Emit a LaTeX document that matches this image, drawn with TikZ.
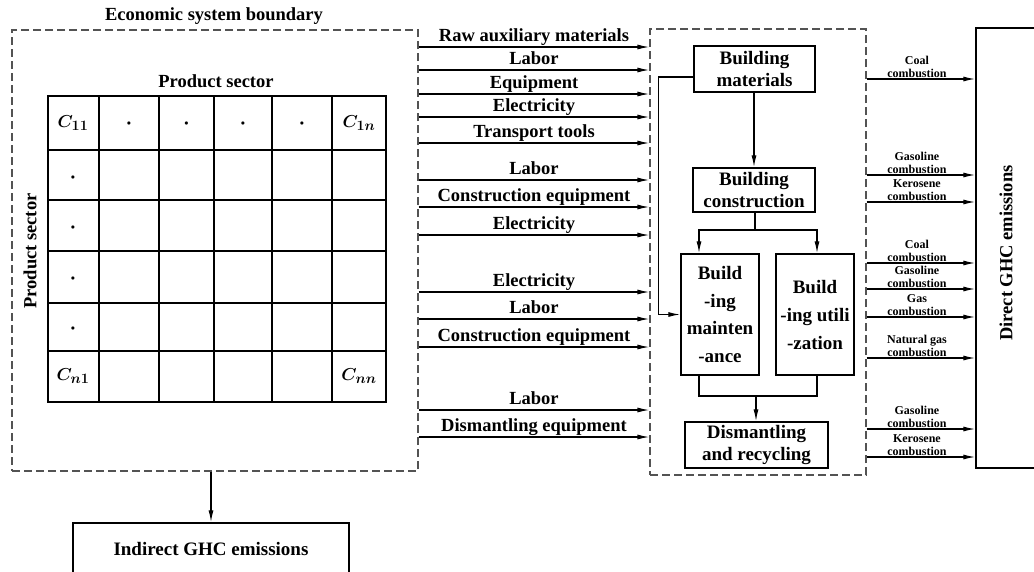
\documentclass[tikz,border=0pt]{standalone}
\usepackage{fontspec}
\setmainfont{Liberation Serif}
\usetikzlibrary{arrows.meta}

\begin{document}
\begin{tikzpicture}[x=1pt, y=-1pt,
    bound/.style={draw=gray!65!black, dash pattern=on 8pt off 4pt, line width=1.1pt, inner sep=0pt},
    blk/.style={draw, line width=1.4pt, inner sep=0pt, align=center,
                font=\fontsize{19}{22}\selectfont\bfseries},
    lbl/.style={font=\fontsize{18.5}{22}\selectfont\bfseries},
    flow/.style={lbl, anchor=base, yshift=6pt},
    fuel/.style={font=\fontsize{12}{12.5}\selectfont\bfseries, align=center, anchor=south,
                 inner sep=1pt, xshift=-4pt},
    cell/.style={font=\fontsize{19}{20}\selectfont\boldmath},
    dot/.style={font=\fontsize{8}{8}\selectfont, inner sep=0pt},
    arr/.style={-{Latex[length=12pt, width=5pt]}, line width=1.3pt}
  ]
  \useasboundingbox (0,0) rectangle (1034,571);

  % Economic system boundary with the input-output table.
  \node[bound, minimum width=406pt, minimum height=441pt] (ecob) at (215,250.5) {};
  \node[lbl] (ecot) at (214,16) {Economic system boundary};
  \node[lbl] (colsec) at (216,81) {Product sector};
  \node[lbl, rotate=90] (rowsec) at (30,251) {Product sector};

  \draw[line width=1.4pt] (48,96) rectangle (386,402);
  \draw[line width=1.4pt] (99,96) -- (99,402) (159,96) -- (159,402) (214,96) -- (214,402)
    (272,96) -- (272,402) (332,96) -- (332,402);
  \draw[line width=1.4pt] (48,150) -- (386,150) (48,200) -- (386,200) (48,251) -- (386,251)
    (48,303) -- (386,303) (48,351) -- (386,351);
  \node[cell] (c11) at (73,123) {$C_{11}$};
  \node[cell] (c1n) at (359,123) {$C_{1n}$};
  \node[cell] (cn1) at (73,376) {$C_{n1}$};
  \node[cell] (cnn) at (359,376) {$C_{nn}$};
  \node[dot] (r1) at (129,124) {$\bullet$};
  \node[dot] (r2) at (186.5,124) {$\bullet$};
  \node[dot] (r3) at (243,124) {$\bullet$};
  \node[dot] (r4) at (302,124) {$\bullet$};
  \node[dot] (k1) at (73,178) {$\bullet$};
  \node[dot] (k2) at (73,228) {$\bullet$};
  \node[dot] (k3) at (73,279) {$\bullet$};
  \node[dot] (k4) at (73,329) {$\bullet$};

  \node[blk, minimum width=276pt, minimum height=52pt] (ind) at (211,549) {Indirect GHC emissions};
  \draw[arr] (ind.north |- ecob.south) -- (ind);

  % Building life cycle boundary.
  \node[bound, minimum width=216pt, minimum height=446pt] (bldb) at (758,252) {};
  \node[blk, minimum width=121pt, minimum height=46pt] (mat) at (754.5,69) {Building\\materials};
  \node[blk, minimum width=122pt, minimum height=44pt] (constr) at (754,190) {Building\\construction};
  \node[blk, minimum width=78pt, minimum height=121pt, font=\fontsize{19}{27.5}\selectfont\bfseries]
    (maint) at (720,314.5) {Build\\-ing\\mainten\\-ance};
  \node[blk, minimum width=78pt, minimum height=121pt, font=\fontsize{19}{28}\selectfont\bfseries]
    (util) at (815,314.5) {Build\\-ing utili\\-zation};
  \node[blk, minimum width=143pt, minimum height=46pt] (dism) at (756.5,445) {Dismantling\\and recycling};

  \draw[arr] (mat.south -| constr.north) -- (constr);
  \coordinate (split) at (755,230);
  \draw[line width=1.3pt] (constr.south -| split) -- (split);
  \draw[arr] (split) -| ([xshift=-21pt]maint.north);
  \draw[arr] (split) -| ([xshift=2pt]util.north);
  \coordinate (join) at (756,396);
  \draw[line width=1.3pt] ([xshift=-21pt]maint.south) |- (join) -| ([xshift=2pt]util.south);
  \draw[arr] (join) -- (join |- dism.north);
  \draw[arr] ([yshift=-8pt]mat.west) -- ++(-35,0) |- (maint.west);

  % Inputs from the economic system.
  \draw[arr] (ecob.east |- 0,47) -- (bldb.west |- 0,47) node[flow, midway] {Raw auxiliary materials};
  \draw[arr] (ecob.east |- 0,70) -- (bldb.west |- 0,70) node[flow, midway] {Labor};
  \draw[arr] (ecob.east |- 0,94) -- (bldb.west |- 0,94) node[flow, midway] {Equipment};
  \draw[arr] (ecob.east |- 0,117) -- (bldb.west |- 0,117) node[flow, midway] {Electricity};
  \draw[arr] (ecob.east |- 0,143) -- (bldb.west |- 0,143) node[flow, midway] {Transport tools};
  \draw[arr] (ecob.east |- 0,180) -- (bldb.west |- 0,180) node[flow, midway] {Labor};
  \draw[arr] (ecob.east |- 0,207) -- (bldb.west |- 0,207) node[flow, midway] {Construction equipment};
  \draw[arr] (ecob.east |- 0,235) -- (bldb.west |- 0,235) node[flow, midway] {Electricity};
  \draw[arr] (ecob.east |- 0,292) -- (bldb.west |- 0,292) node[flow, midway] {Electricity};
  \draw[arr] (ecob.east |- 0,319) -- (bldb.west |- 0,319) node[flow, midway] {Labor};
  \draw[arr] (ecob.east |- 0,347) -- (bldb.west |- 0,347) node[flow, midway] {Construction equipment};
  \draw[arr] (ecob.east |- 0,410) -- (bldb.west |- 0,410) node[flow, midway] {Labor};
  \draw[arr] (ecob.east |- 0,437) -- (bldb.west |- 0,437) node[flow, midway] {Dismantling equipment};

  % Direct emissions.
  \node[blk, minimum width=66pt, minimum height=440pt] (direct) at (1009,248) {};
  \node[lbl, rotate=90] (directlbl) at (1006,253) {Direct GHC emissions};
  \draw[arr] (bldb.east |- 0,79) -- (direct.west |- 0,79) node[fuel, midway] {Coal\\combustion};
  \draw[arr] (bldb.east |- 0,175) -- (direct.west |- 0,175) node[fuel, midway] {Gasoline\\combustion};
  \draw[arr] (bldb.east |- 0,202) -- (direct.west |- 0,202) node[fuel, midway] {Kerosene\\combustion};
  \draw[arr] (bldb.east |- 0,263) -- (direct.west |- 0,263) node[fuel, midway] {Coal\\combustion};
  \draw[arr] (bldb.east |- 0,289) -- (direct.west |- 0,289) node[fuel, midway] {Gasoline\\combustion};
  \draw[arr] (bldb.east |- 0,317) -- (direct.west |- 0,317) node[fuel, midway] {Gas\\combustion};
  \draw[arr] (bldb.east |- 0,358) -- (direct.west |- 0,358) node[fuel, midway] {Natural gas\\combustion};
  \draw[arr] (bldb.east |- 0,429) -- (direct.west |- 0,429) node[fuel, midway] {Gasoline\\combustion};
  \draw[arr] (bldb.east |- 0,457) -- (direct.west |- 0,457) node[fuel, midway] {Kerosene\\combustion};
\end{tikzpicture}
\end{document}
